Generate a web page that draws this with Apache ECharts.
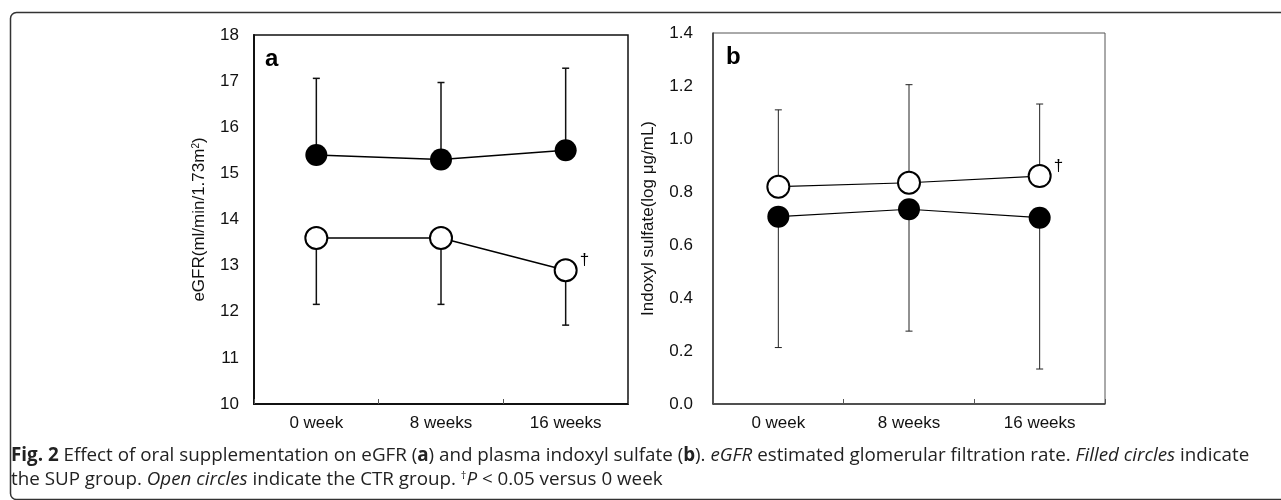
<!DOCTYPE html>
<html>
<head>
<meta charset="utf-8">
<script src="https://cdn.jsdelivr.net/npm/echarts@6/dist/echarts.min.js"></script>
<style>
html,body{margin:0;padding:0;background:#fff;}
#chart{width:1281px;height:500px;}
</style>
</head>
<body>
<div id="chart"></div>
<script>
// ---- data ----
const categories = ['0 week', '8 weeks', '16 weeks'];
// Panel a: eGFR
const egfrSUP = [15.4, 15.3, 15.5];
const egfrSUPUpper = [17.06, 16.97, 17.28];
const egfrCTR = [13.6, 13.6, 12.9];
const egfrCTRLower = [12.16, 12.16, 11.71];
// Panel b: Indoxyl sulfate
const isCTR = [0.82, 0.835, 0.86];
const isCTRUpper = [1.11, 1.205, 1.132];
const isSUP = [0.707, 0.735, 0.703];
const isSUPLower = [0.213, 0.275, 0.132];
// tick settings
const yTicksA = {min: 10, max: 18, interval: 1};
const yTicksB = {min: 0, max: 1.4, interval: 0.2};
const daggerIndexA = 2;
const daggerIndexB = 2;

const chart = echarts.init(document.getElementById('chart'), null, {renderer: 'canvas'});
const FONT = 'Liberation Sans, Arial, sans-serif';
const FS = 17;
const CAP = 18.8;

function errSeries(xi, yi, values, ends, color, width) {
  return {
    type: 'custom',
    xAxisIndex: xi, yAxisIndex: yi,
    z: 1,
    silent: true,
    data: values.map((v, i) => [i, v, ends[i]]),
    renderItem: function (params, api) {
      const p0 = api.coord([api.value(0), api.value(1)]);
      const p1 = api.coord([api.value(0), api.value(2)]);
      const cap = 3.5;
      const style = {stroke: color, lineWidth: width, fill: null};
      return {
        type: 'group',
        children: [
          {type: 'line', shape: {x1: p0[0], y1: p0[1], x2: p1[0], y2: p1[1]}, style: style},
          {type: 'line', shape: {x1: p1[0] - cap, y1: p1[1], x2: p1[0] + cap, y2: p1[1]}, style: style}
        ]
      };
    }
  };
}

function daggerData(values, idx) {
  return values.map((v, i) => i === idx ? {
    value: v,
    label: {show: true, formatter: '†', position: 'right', offset: [-3, -10],
      fontFamily: FONT, fontSize: 17, color: '#000'}
  } : v);
}

function lineSeries(xi, yi, data, open, lw) {
  return {
    type: 'line',
    xAxisIndex: xi, yAxisIndex: yi,
    z: 3,
    data: data,
    symbol: 'circle',
    symbolSize: 22,
    lineStyle: {color: '#000', width: lw},
    itemStyle: open ? {color: '#fff', borderColor: '#000', borderWidth: 2}
                    : {color: '#000', borderColor: '#000', borderWidth: 0},
    emphasis: {disabled: true},
    silent: true
  };
}

function xAxis(gi, axisColor, axisW) {
  return {
    type: 'category', gridIndex: gi, data: categories, boundaryGap: true,
    axisLine: {lineStyle: {color: axisColor, width: axisW}},
    axisTick: {show: true, inside: true, length: 5, lineStyle: {color: '#555', width: 1}},
    axisLabel: {color: '#111', fontFamily: FONT, fontSize: FS, margin: 11},
    splitLine: {show: false}
  };
}

const option = {
  animation: false,
  backgroundColor: '#fff',
  grid: [
    {left: 254, top: 35, width: 374, height: 369, show: true, borderColor: '#111', borderWidth: 1.5, backgroundColor: 'transparent'},
    {left: 713, top: 33, width: 392, height: 371, show: true, borderColor: '#555', borderWidth: 1, backgroundColor: 'transparent'}
  ],
  xAxis: [xAxis(0, '#111', 2), xAxis(1, '#333', 1.5)],
  yAxis: [
    {
      type: 'value', gridIndex: 0, min: yTicksA.min, max: yTicksA.max, interval: yTicksA.interval,
      name: 'eGFR(ml/min/1.73m{sup|2})', nameLocation: 'middle', nameGap: 46, nameRotate: 90,
      nameTextStyle: {color: '#111', fontFamily: FONT, fontSize: FS,
        rich: {sup: {fontSize: 10, verticalAlign: 'top', color: '#111', fontFamily: FONT, padding: [0, 0, 7, 0]}}},
      axisLine: {show: true, lineStyle: {color: '#111', width: 2}},
      axisTick: {show: false},
      axisLabel: {color: '#111', fontFamily: FONT, fontSize: FS, margin: 15},
      splitLine: {show: false}
    },
    {
      type: 'value', gridIndex: 1, min: yTicksB.min, max: yTicksB.max, interval: yTicksB.interval,
      name: 'Indoxyl sulfate(log μg/mL)', nameLocation: 'middle', nameGap: 56, nameRotate: 90,
      nameTextStyle: {color: '#111', fontFamily: FONT, fontSize: FS},
      axisLine: {show: true, lineStyle: {color: '#333', width: 1.5}},
      axisTick: {show: false},
      axisLabel: {color: '#111', fontFamily: FONT, fontSize: FS, margin: 20,
        formatter: v => v.toFixed(1)},
      splitLine: {show: false}
    }
  ],
  series: [
    errSeries(0, 0, egfrSUP, egfrSUPUpper, '#111', 1.5),
    errSeries(0, 0, egfrCTR, egfrCTRLower, '#111', 1.5),
    lineSeries(0, 0, egfrSUP, false, 1.5),
    lineSeries(0, 0, daggerData(egfrCTR, daggerIndexA), true, 1.5),
    errSeries(1, 1, isCTR, isCTRUpper, '#222', 1),
    errSeries(1, 1, isSUP, isSUPLower, '#222', 1),
    lineSeries(1, 1, daggerData(isCTR, daggerIndexB), true, 1.2),
    lineSeries(1, 1, isSUP, false, 1.2)
  ],
  graphic: [
    {type: 'rect', left: 8, top: 10, shape: {width: 1300, height: 487, r: 6},
      style: {fill: null, stroke: '#333', lineWidth: 1.5}, silent: true},
    {type: 'text', x: 265, y: 47, style: {text: 'a', font: 'bold 24px ' + FONT, fill: '#000'}},
    {type: 'text', x: 726, y: 45, style: {text: 'b', font: 'bold 24px ' + FONT, fill: '#000'}},
    {type: 'text', x: 11, y: 446, style: {
      text: '{b|Fig. 2} Effect of oral supplementation on eGFR ({b|a}) and plasma indoxyl sulfate ({b|b}). {i|eGFR} estimated glomerular filtration rate. {i|Filled circles} indicate',
      fontFamily: 'Open Sans', fontSize: CAP, fill: '#222',
      rich: {
        b: {fontFamily: 'Open Sans', fontSize: CAP, fontWeight: 'bold', fill: '#222'},
        i: {fontFamily: 'Open Sans', fontSize: CAP, fontStyle: 'italic', fill: '#222'}
      }
    }},
    {type: 'text', x: 11, y: 470, style: {
      text: 'the SUP group. {i|Open circles} indicate the CTR group. {s|†}{i|P} < 0.05 versus 0 week',
      fontFamily: 'Open Sans', fontSize: CAP, fill: '#222',
      rich: {
        i: {fontFamily: 'Open Sans', fontSize: CAP, fontStyle: 'italic', fill: '#222'},
        s: {fontFamily: 'Open Sans', fontSize: 11, fill: '#222', verticalAlign: 'top', padding: [0, 0, 9, 0]}
      }
    }}
  ]
};
chart.setOption(option);
</script>
</body>
</html>
